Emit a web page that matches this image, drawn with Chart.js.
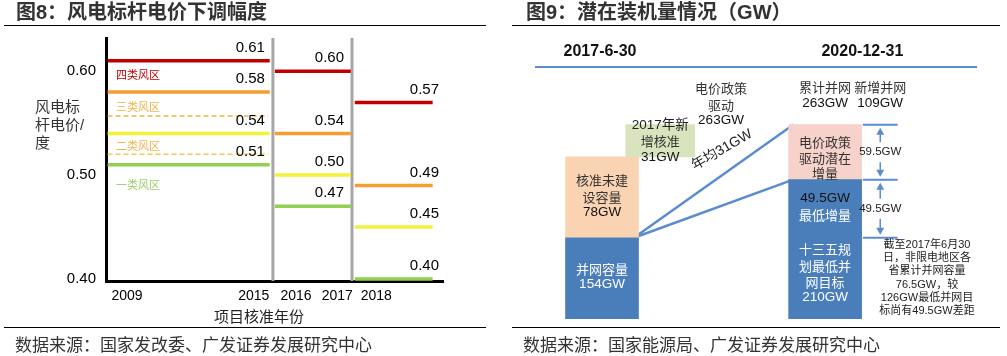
<!DOCTYPE html>
<html lang="zh-CN"><head><meta charset="utf-8">
<script src="https://cdn.jsdelivr.net/npm/chart.js@4/dist/chart.umd.min.js"></script>
<style>
html,body{margin:0;padding:0;background:#fff;}
body{position:relative;width:1007px;height:356px;overflow:hidden;}
canvas{position:absolute;top:0;}
.txt{position:absolute;white-space:nowrap;color:#333;font-family:"Liberation Sans","Noto Sans CJK SC",sans-serif;}
.ttl{top:0;font-size:20px;line-height:24px;font-weight:bold;}
.src{top:332px;font-size:17px;line-height:24px;font-family:"Noto Sans CJK SC",sans-serif;}
.rule{position:absolute;height:0;border-top:1.5px solid #000;}
</style></head>
<body>
<canvas id="c1" width="505" height="356" style="left:0"></canvas>
<canvas id="c2" width="502" height="356" style="left:505px"></canvas>
<div class="txt ttl" style="left:16px">图8：风电标杆电价下调幅度</div>
<div class="txt ttl" style="left:526px">图9：潜在装机量情况（GW）</div>
<div class="rule" style="left:4px;top:25px;width:482px"></div>
<div class="rule" style="left:512px;top:25px;width:488px"></div>
<div class="rule" style="left:4px;top:327px;width:482px"></div>
<div class="rule" style="left:512px;top:327px;width:488px"></div>
<div class="txt src" style="left:15px">数据来源：国家发改委、广发证券发展研究中心</div>
<div class="txt src" style="left:523px">数据来源：国家能源局、广发证券发展研究中心</div>
<script>
// ================= DATA: 图8 风电标杆电价 =================
const periodLabels = ['2009-2015', '2016-2017', '2018'];
const xTickLabels  = ['2009', '2015', '2016', '2017', '2018'];
const yTickValues  = [0.40, 0.50, 0.60];
const zoneNames    = ['四类风区', '三类风区', '二类风区', '一类风区'];
const zone4Price   = [0.61, 0.60, 0.57];
const zone3Price   = [0.58, 0.54, 0.49];
const zone2Price   = [0.54, 0.50, 0.45];
const zone1Price   = [0.51, 0.47, 0.40];
const zoneBoundary = [0.557, 0.52];

// ================= DATA: 图9 潜在装机量 (GW) =================
const stageLabels       = ['2017-6-30', '2020-12-31'];
const gridCapacityGW    = [154, 210];   // 并网容量 / 十三五规划最低并网目标
const approvedUnbuiltGW = [78];         // 核准未建设容量
const newApproved2017GW = [31];         // 2017年新增核准
const cumulative2020GW  = [263];        // 累计并网
const newGrid2020GW     = [109];        // 新增并网
const incrementGW       = [49.5, 59.5]; // 最低增量 / 电价政策驱动潜在增量
const noteLines = ['截至2017年6月30', '日，非限电地区各', '省累计并网容量', '76.5GW，较', '126GW最低并网目', '标尚有49.5GW差距'];

// ================= LAYOUT / STYLE =================
const LAT = '"Liberation Sans", Arial, sans-serif';
const CJK = '"Noto Sans CJK SC", sans-serif';
const MIX = '"Liberation Sans", "Noto Sans CJK SC", sans-serif';

const L1 = {
  xMax: 42.4, yMin: 0.398, yMax: 0.632,
  spans: [[0.2, 20.6], [21.25, 30.8], [31.3, 41.1]],
  separators: [21.0, 30.95],
  tickPos: [2.64, 18.6, 23.9, 29.1, 34.0],
  labelRight: [20.0, 29.95, 41.9],
  zoneLabelY: [75, 107, 146, 185]
};
const zoneColors     = ['#C00000', '#F59D2E', '#F2F23A', '#92D050'];
const zoneTextColors = ['#C00000', '#F0B34A', '#F0B34A', '#9BCB6A'];
const boundaryColors = ['#F2B545', '#F5CA55'];

function segments(vals) {
  const d = [];
  vals.forEach((v, i) => {
    d.push({x: L1.spans[i][0], y: v}, {x: L1.spans[i][1], y: v});
    if (i < vals.length - 1) d.push({x: L1.spans[i][1], y: null});
  });
  return d;
}
const zoneSeries = [zone4Price, zone3Price, zone2Price, zone1Price];

const datasets1 = zoneSeries.map((vals, k) => ({
  label: zoneNames[k], data: segments(vals), borderColor: zoneColors[k],
  borderWidth: 3.5, pointRadius: 0, fill: false, spanGaps: false, tension: 0, borderCapStyle: 'butt'
}));
zoneBoundary.forEach((v, k) => datasets1.push({
  label: 'boundary' + k, data: [{x: 0.2, y: v}, {x: 20.4, y: v}], borderColor: boundaryColors[k],
  borderWidth: 1.5, borderDash: [5, 3], pointRadius: 0, fill: false
}));

const leftDecor = {
  id: 'leftDecor',
  beforeDatasetsDraw(chart) {
    const {ctx, chartArea: a, scales: {x}} = chart;
    ctx.save();
    ctx.strokeStyle = '#A6A6A6'; ctx.lineWidth = 3;
    L1.separators.forEach(s => {
      const px = x.getPixelForValue(s);
      ctx.beginPath(); ctx.moveTo(px, a.top); ctx.lineTo(px, a.bottom); ctx.stroke();
    });
    ctx.restore();
  },
  afterDatasetsDraw(chart) {
    const {ctx, scales: {x, y}} = chart;
    ctx.save();
    ctx.textBaseline = 'middle';
    ctx.font = '15px ' + LAT; ctx.fillStyle = '#000'; ctx.textAlign = 'right';
    zoneSeries.forEach(vals => vals.forEach((v, i) => {
      ctx.fillText(v.toFixed(2), x.getPixelForValue(L1.labelRight[i]), y.getPixelForValue(v) - 13);
    }));
    ctx.font = '11px ' + CJK; ctx.textAlign = 'left';
    zoneNames.forEach((n, k) => { ctx.fillStyle = zoneTextColors[k]; ctx.fillText(n, 116, L1.zoneLabelY[k]); });
    ctx.font = '15px ' + MIX; ctx.fillStyle = '#333';
    ['风电标', '杆电价/', '度'].forEach((t, i) => ctx.fillText(t, 35, 108 + i * 18));
    ctx.textAlign = 'center'; ctx.fillStyle = '#222';
    ctx.fillText('项目核准年份', 259, 318);
    ctx.restore();
  }
};

new Chart(document.getElementById('c1'), {
  type: 'line',
  data: {datasets: datasets1},
  options: {
    responsive: false, animation: false, devicePixelRatio: 1,
    layout: {padding: {left: 0, right: 62, top: 38, bottom: 0}},
    plugins: {legend: {display: false}, tooltip: {enabled: false}},
    scales: {
      x: {
        type: 'linear', min: 0, max: L1.xMax,
        afterBuildTicks: s => { s.ticks = L1.tickPos.map(v => ({value: v})); },
        afterFit: s => { s.height = 75; },
        grid: {display: false, drawTicks: false},
        border: {display: true, color: '#000', width: 3},
        ticks: {autoSkip: false, maxRotation: 0, minRotation: 0, padding: 7, color: '#000',
          font: {family: LAT, size: 14}, callback: (v, i) => xTickLabels[i]}
      },
      y: {
        type: 'linear', min: L1.yMin, max: L1.yMax,
        afterBuildTicks: s => { s.ticks = yTickValues.map(v => ({value: v})); },
        afterFit: s => { s.width = 106; },
        grid: {display: false, drawTicks: false},
        border: {display: true, color: '#000', width: 3},
        ticks: {padding: 10, color: '#000', font: {family: LAT, size: 15}, callback: v => Number(v).toFixed(2)}
      }
    }
  },
  plugins: [leftDecor]
});

// ================= 图9 =================
const L2 = {
  xMin: -0.1765, xMax: 1.5569, yMin: 75.7, yMax: 318.6,
  barX: [0, 1], greenX: 0.261, edgeL: 0.143, edgeR: 0.857,
  arrowX: 1.247, tickHalf: 0.078, header2X: 1.167
};
const BLUE = '#4A7EBB', LINE_BLUE = '#5B8BD0';
const leftTop = gridCapacityGW[0] + approvedUnbuiltGW[0];

const datasets2 = [
  {type: 'bar', label: '并网容量', data: [{x: L2.barX[0], y: [L2.yMin, gridCapacityGW[0]]}], backgroundColor: BLUE, barThickness: 73},
  {type: 'bar', label: '十三五规划最低并网目标', data: [{x: L2.barX[1], y: [L2.yMin, gridCapacityGW[1]]}], backgroundColor: BLUE, barThickness: 73},
  {type: 'bar', label: '核准未建设容量', data: [{x: L2.barX[0], y: [gridCapacityGW[0], leftTop]}], backgroundColor: '#FAD3B2', barThickness: 73},
  {type: 'bar', label: '2017年新增核准', data: [{x: L2.greenX, y: [leftTop, leftTop + newApproved2017GW[0]]}], backgroundColor: '#D7E4BD', barThickness: 69},
  {type: 'bar', label: '电价政策驱动潜在增量', data: [{x: L2.barX[1], y: [gridCapacityGW[1], cumulative2020GW[0]]}], backgroundColor: '#F6D2CA', barThickness: 73},
  {type: 'line', label: '电价政策驱动', data: [{x: L2.edgeL, y: gridCapacityGW[0]}, {x: L2.edgeR, y: cumulative2020GW[0]}],
    borderColor: LINE_BLUE, borderWidth: 2.5, pointRadius: 0, fill: false},
  {type: 'line', label: '最低增量', data: [{x: L2.edgeL, y: gridCapacityGW[0]}, {x: L2.edgeR, y: gridCapacityGW[1]}],
    borderColor: LINE_BLUE, borderWidth: 2.5, pointRadius: 0, fill: false}
];

function txt(ctx, s, x, y, font, color, align) {
  ctx.font = font; ctx.fillStyle = color; ctx.textAlign = align || 'center'; ctx.fillText(s, x, y);
}
function arrow(ctx, x, y0, y1) {
  const dir = y1 > y0 ? 1 : -1;
  ctx.beginPath(); ctx.moveTo(x, y0); ctx.lineTo(x, y1 - dir * 6); ctx.stroke();
  ctx.beginPath(); ctx.moveTo(x, y1); ctx.lineTo(x - 4, y1 - dir * 7); ctx.lineTo(x + 4, y1 - dir * 7); ctx.closePath(); ctx.fill();
}

const rightDecor = {
  id: 'rightDecor',
  afterDatasetsDraw(chart) {
    const {ctx, chartArea: a, scales: {x, y}} = chart;
    ctx.save();
    ctx.textBaseline = 'middle';
    // header
    ctx.strokeStyle = LINE_BLUE; ctx.lineWidth = 2;
    ctx.beginPath(); ctx.moveTo(a.left, a.top); ctx.lineTo(a.right, a.top); ctx.stroke();
    txt(ctx, stageLabels[0], x.getPixelForValue(L2.barX[0]) - 2, 52, 'bold 16px ' + LAT, '#111');
    txt(ctx, stageLabels[1], x.getPixelForValue(L2.header2X), 52, 'bold 16px ' + LAT, '#111');

    const cx0 = x.getPixelForValue(L2.barX[0]), cx1 = x.getPixelForValue(L2.barX[1]), cg = x.getPixelForValue(L2.greenX);
    const C13 = '13px ' + CJK, G = '13.5px ' + MIX;
    // policy driven text
    txt(ctx, '电价政策', 216, 88, C13, '#333');
    txt(ctx, '驱动', 216, 105, C13, '#333');
    txt(ctx, cumulative2020GW[0] + 'GW', 216, 120, G, '#111');
    // rotated label
    ctx.save(); ctx.translate(217, 150); ctx.rotate(-30 * Math.PI / 180);
    txt(ctx, '年均' + newApproved2017GW[0] + 'GW', 0, 0, '14px ' + MIX, '#222');
    ctx.restore();
    // green box
    txt(ctx, '2017年新', cg, 125, G, '#222');
    txt(ctx, '增核准', cg, 141, C13, '#333');
    txt(ctx, newApproved2017GW[0] + 'GW', cg, 157, G, '#111');
    // left peach
    txt(ctx, '核准未建', cx0, 180, C13, '#333');
    txt(ctx, '设容量', cx0, 197, C13, '#333');
    txt(ctx, approvedUnbuiltGW[0] + 'GW', cx0, 212, G, '#111');
    // left blue
    txt(ctx, '并网容量', cx0, 269, C13, '#fff');
    txt(ctx, gridCapacityGW[0] + 'GW', cx0, 284, G, '#fff');
    // right headers
    txt(ctx, '累计并网', cx1, 87, C13, '#333');
    txt(ctx, cumulative2020GW[0] + 'GW', cx1, 103, G, '#111');
    const ax = x.getPixelForValue(L2.arrowX);
    txt(ctx, '新增并网', ax, 87, C13, '#333');
    txt(ctx, newGrid2020GW[0] + 'GW', ax, 103, G, '#111');
    // right pink
    txt(ctx, '电价政策', cx1, 142, C13, '#333');
    txt(ctx, '驱动潜在', cx1, 158, C13, '#333');
    txt(ctx, '增量', cx1, 173, C13, '#333');
    // right blue
    txt(ctx, incrementGW[0] + 'GW', cx1, 198, G, '#111');
    txt(ctx, '最低增量', cx1, 215, C13, '#fff');
    txt(ctx, '十三五规', cx1, 249, C13, '#fff');
    txt(ctx, '划最低并', cx1, 266, C13, '#fff');
    txt(ctx, '网目标', cx1, 282, C13, '#fff');
    txt(ctx, gridCapacityGW[1] + 'GW', cx1, 297, G, '#fff');
    // arrows column
    const lv = [cumulative2020GW[0], gridCapacityGW[1], gridCapacityGW[0]].map(v => y.getPixelForValue(v));
    const tx0 = x.getPixelForValue(L2.arrowX - L2.tickHalf), tx1 = x.getPixelForValue(L2.arrowX + L2.tickHalf);
    ctx.strokeStyle = LINE_BLUE; ctx.fillStyle = LINE_BLUE; ctx.lineWidth = 2;
    lv.forEach(p => { ctx.beginPath(); ctx.moveTo(tx0, p); ctx.lineTo(tx1, p); ctx.stroke(); });
    ctx.lineWidth = 1.5;
    const m1 = (lv[0] + lv[1]) / 2, m2 = (lv[1] + lv[2]) / 2;
    arrow(ctx, ax, m1 - 10, lv[0] + 3);
    arrow(ctx, ax, m1 + 10, lv[1] - 3);
    arrow(ctx, ax, m2 - 10, lv[1] + 3);
    arrow(ctx, ax, m2 + 10, lv[2] - 3);
    txt(ctx, incrementGW[1] + 'GW', ax, m1, '11.5px ' + LAT, '#222');
    txt(ctx, incrementGW[0] + 'GW', ax, m2, '11.5px ' + LAT, '#222');
    // note
    noteLines.forEach((s, i) => txt(ctx, s, 422, 245 + i * 13.2, '11px ' + MIX, '#222'));
    ctx.restore();
  }
};

new Chart(document.getElementById('c2'), {
  type: 'bar',
  data: {datasets: datasets2},
  options: {
    responsive: false, animation: false, devicePixelRatio: 1,
    layout: {padding: {left: 30, right: 30, top: 67, bottom: 37}},
    plugins: {legend: {display: false}, tooltip: {enabled: false}},
    scales: {
      x: {type: 'linear', display: false, min: L2.xMin, max: L2.xMax, stacked: true},
      y: {type: 'linear', display: false, min: L2.yMin, max: L2.yMax, stacked: false}
    }
  },
  plugins: [rightDecor]
});
</script>
</body></html>
